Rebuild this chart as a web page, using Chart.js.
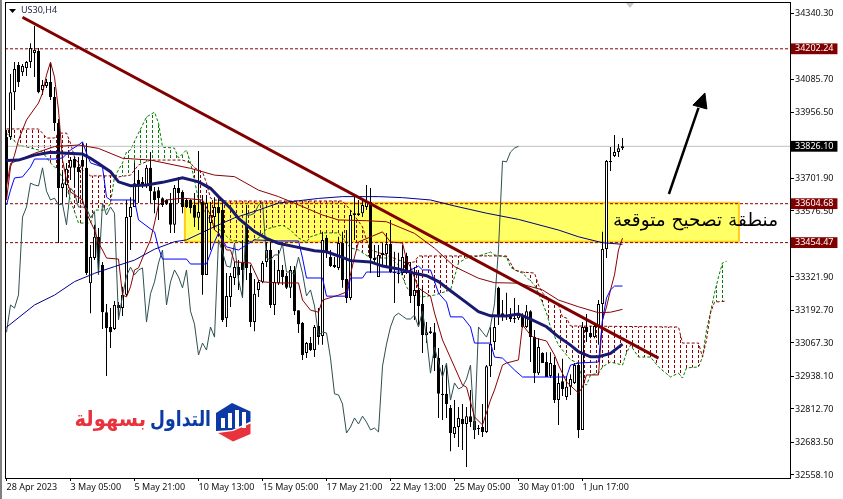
<!DOCTYPE html>
<html><head><meta charset="utf-8">
<style>html,body{margin:0;padding:0;background:#fff}#wrap{position:absolute;left:0;top:0;width:843px;height:499px}</style>
<script src="https://cdn.jsdelivr.net/npm/chart.js@4"></script></head>
<body><div id="wrap"><canvas id="c" width="843" height="499"></canvas></div>
<script>
const opens=[33862,33862,34035,34140,34112,34128,34151,34186,34194,34043,34059,34074,34016,33916,33665,33677,33743,33777,33747,33773,33743,33298,33395,33477,33368,33186,33129,33121,33214,33202,33253,33553,33592,33696,33688,33677,33743,33653,33657,33626,33619,33607,33523,33665,33650,33619,33619,33600,33550,33611,33330,33530,33553,33592,33580,33163,33245,33318,33360,33376,33523,33337,33148,33272,33303,33380,33426,33214,33298,33349,33326,33280,33349,33194,33144,33029,33067,33040,33133,33094,33473,33399,33368,33357,33453,33314,33241,33568,33561,33568,33592,33611,33395,33322,33415,33411,33449,33337,33337,33337,33403,33341,33249,33272,33218,33098,33113,33109,33009,32871,32871,32816,32716,32743,32774,32755,32785,32766,32735,32743,32724,32978,33071,33280,33175,33175,33175,33163,33163,33175,33129,33190,33090,32951,33029,32994,32940,32982,32847,32920,32859,32898,32913,32982,32732,33129,33106,33090,33133,33218,33430,33769,33789,33804,33819];
const highs=[33889,34105,34151,34151,34144,34155,34224,34290,34205,34082,34086,34147,34055,33931,33727,33762,33785,33785,33785,33842,33838,33445,33523,33511,33380,33218,33202,33229,33225,33284,33619,33630,33762,33735,33708,33754,33804,33669,33669,33630,33622,33646,33677,33708,33657,33626,33622,33646,33808,33638,33638,33611,33630,33626,33619,33337,33337,33380,33387,33465,33600,33368,33314,33310,33384,33457,33457,33387,33426,33368,33337,33364,33364,33194,33148,33071,33090,33137,33202,33496,33484,33426,33399,33477,33496,33503,33580,33638,33619,33619,33677,33665,33445,33445,33453,33492,33542,33419,33415,33445,33415,33380,33360,33349,33284,33148,33129,33144,33048,32982,32982,32828,32847,32820,32832,32820,32886,32782,32751,32832,32982,33129,33167,33284,33233,33261,33202,33241,33214,33182,33214,33194,33117,33086,33032,33032,33032,33013,32951,33006,32940,32947,32990,32990,33148,33179,33133,33137,33233,33496,33773,33823,33870,33835,33858];
const lows=[33619,33850,33966,34055,34097,34097,34128,34093,34031,34024,34051,34005,33885,33453,33604,33630,33696,33669,33607,33607,33330,33182,33387,33330,33121,32940,33048,33117,33163,33171,33249,33426,33592,33607,33665,33665,33607,33568,33542,33592,33600,33492,33492,33607,33568,33588,33568,33515,33503,33253,33330,33426,33503,33477,33148,33129,33206,33291,33272,33245,33310,33129,33113,33245,33298,33360,33202,33175,33291,33291,33276,33241,33175,33106,33002,33009,33036,33013,33060,33060,33395,33360,33357,33349,33280,33222,33233,33465,33557,33553,33580,33337,33376,33322,33360,33360,33337,33222,33298,33330,33333,33222,33156,33137,33029,33067,33102,32959,32778,32770,32778,32650,32701,32666,32654,32589,32743,32697,32712,32705,32720,32936,33040,33137,33152,33156,33148,33144,33156,33125,33125,32994,32913,32944,32990,32936,32932,32836,32751,32863,32847,32867,32909,32701,32732,33071,33086,33086,33060,33129,33395,33731,33785,33785,33812];
const closes=[33696,34035,34124,34074,34136,34151,34205,34198,34035,34063,34074,34016,33916,33665,33684,33739,33773,33743,33727,33747,33337,33399,33477,33399,33186,33125,33109,33214,33202,33253,33553,33592,33684,33677,33673,33743,33653,33619,33626,33600,33604,33523,33665,33646,33592,33592,33588,33550,33573,33330,33607,33561,33592,33568,33156,33249,33326,33360,33330,33349,33357,33148,33257,33303,33376,33426,33214,33303,33349,33322,33280,33349,33190,33140,33021,33067,33040,33129,33090,33465,33419,33364,33360,33453,33310,33241,33561,33561,33568,33600,33611,33395,33387,33407,33407,33449,33341,33341,33333,33399,33337,33249,33272,33210,33098,33109,33106,33009,32871,32867,32832,32720,32743,32778,32755,32785,32762,32732,32739,32724,32978,33063,33129,33171,33182,33171,33160,33160,33175,33129,33190,33090,32951,33052,32990,32936,32990,32847,32913,32890,32898,32928,32982,32732,33129,33109,33090,33133,33218,33430,33769,33766,33804,33819,33826];

const chikou=[33109,33214,33202,33253,33553,33592,33684,33677,33673,33743,33653,33619,33626,33600,33604,33523,33665,33646,33592,33592,33588,33550,33573,33330,33607,33561,33592,33568,33156,33249,33326,33360,33330,33349,33357,33148,33257,33303,33376,33426,33214,33303,33349,33322,33280,33349,33190,33140,33021,33067,33040,33129,33090,33465,33419,33364,33360,33453,33310,33241,33561,33561,33568,33600,33611,33395,33387,33407,33407,33449,33341,33341,33333,33399,33337,33249,33272,33210,33098,33109,33106,33009,32871,32867,32832,32720,32743,32778,32755,32785,32762,32732,32739,32724,32978,33063,33129,33171,33182,33171,33160,33160,33175,33129,33190,33090,32951,33052,32990,32936,32990,32847,32913,32890,32898,32928,32982,32732,33129,33109,33090,33133,33218,33430,33769,33766,33804,33819,33826];

const maFastX=[0,3,7,11,15,19,21,23,26,28,31,35,39,44,48,51,53,56,58,62,65,68,72,77,80,83,86,91,94,98,102,105,108,111,115,118,121,125,128,131,135,138,141,143,146,148,151,154];
const maFastY=[33771,33773,33792,33803,33799,33796,33780,33760,33728,33689,33674,33677,33687,33705,33689,33664,33632,33587,33548,33497,33471,33452,33439,33423,33419,33403,33385,33380,33364,33353,33336,33327,33304,33269,33223,33188,33172,33171,33179,33159,33130,33091,33059,33034,33014,33014,33027,33063];

const maSlowX=[0,7,12,17,22,27,32,37,42,45,52,57,63,68,73,78,84,93,99,106,112,120,128,138,143,149,154];
const maSlowY=[33128,33214,33252,33304,33336,33362,33387,33429,33458,33465,33516,33550,33580,33607,33616,33625,33632,33632,33628,33619,33596,33568,33544,33503,33477,33454,33448];

const maMidX=[0,1,3,7,12,18,23,29,36,46,52,57,63,68,73,79,83,90,95,102,107,112,118,122,128,134,138,143,148,151,154];
const maMidY=[33670,33760,33773,33799,33825,33831,33818,33780,33773,33741,33715,33709,33657,33632,33600,33561,33542,33539,33535,33490,33433,33362,33317,33300,33298,33272,33233,33207,33184,33186,33197];

const tenkanX=[0,1,2,3,5,8,9,10,11,12,13,14,15,16,19,20,22,23,24,25,28,29,30,31,32,33,34,36,37,38,40,44,49,51,52,53,55,56,57,61,63,64,68,73,74,76,78,79,83,85,87,88,94,96,99,100,101,103,106,107,109,112,114,115,117,119,121,122,124,125,128,129,131,132,135,137,138,140,143,144,145,148,149,150,151,152,153,154];
const tenkanY=[33619,33746,33792,33850,33928,33993,34031,34101,34151,34093,33966,33773,33696,33650,33619,33568,33503,33453,33426,33395,33391,33253,33245,33284,33349,33357,33395,33465,33530,33600,33619,33626,33619,33561,33503,33492,33426,33426,33380,33376,33310,33303,33299,33299,33233,33194,33186,33233,33252,33264,33399,33457,33496,33457,33453,33387,33360,33279,33248,33183,33079,32975,32905,32897,32782,32751,32847,32886,32982,32990,33002,33137,33098,33087,33075,33021,32982,32917,32874,32897,32944,32944,33156,33206,33272,33330,33426,33472];

const kijunX=[0,1,2,4,6,7,12,14,16,18,19,20,21,24,25,26,32,33,37,38,39,45,46,50,51,52,53,55,58,62,68,73,74,75,79,80,85,86,89,90,100,103,104,106,108,110,111,114,116,117,121,122,124,127,129,140,141,143,148,149,150,151,152,154];
const kijunY=[33600,33657,33704,33708,33746,33777,33777,33781,33812,33831,33843,33800,33762,33746,33630,33619,33619,33542,33496,33434,33391,33391,33372,33372,33414,33457,33492,33438,33426,33465,33461,33461,33395,33318,33318,33248,33248,33318,33318,33341,33341,33364,33349,33349,33260,33225,33168,33168,33129,33067,33067,33013,33009,32963,32936,32936,32982,32990,32994,33156,33241,33272,33287,33287];

const spanAX=[0,3,8,9,11,12,13,15,16,18,21,22,25,26,27,29,30,31,33,35,37,38,39,42,43,45,46,47,48,50,52,56,60,63,65,68,69,71,73,75,76,79,83,86,88,91,96,98,99,100,101,104,107,111,112,113,115,118,121,122,125,126,127,129,132,133,135,136,138,141,143,144,145,146,148,149,151,154,155,156,158,161,163,166,168,169,170,173,174,175,176,177,178,179,180];
const spanAY=[33877,33831,33812,33804,33762,33746,33735,33669,33619,33530,33530,33580,33580,33607,33708,33762,33804,33812,33877,33939,33958,33916,33823,33819,33781,33812,33762,33696,33619,33561,33522,33465,33453,33472,33507,33519,33522,33503,33472,33457,33477,33492,33492,33434,33426,33395,33395,33368,33322,33284,33260,33245,33252,33272,33322,33376,33395,33403,33418,33407,33399,33360,33349,33337,33291,33260,33183,33129,33059,33002,32990,32913,32905,32944,32951,32975,32994,32982,33029,33059,33013,33013,32975,32936,32951,32932,32971,32975,33013,33117,33186,33260,33322,33376,33383];

const spanBX=[0,8,9,10,12,13,15,16,17,19,21,27,28,31,33,36,44,46,47,49,50,51,52,55,84,86,89,90,91,94,100,102,103,125,126,127,129,132,133,134,136,138,139,140,141,168,169,173,174,175,176,177,180];
const spanBY=[33893,33893,33877,33858,33858,33877,33877,33838,33785,33735,33712,33712,33708,33715,33754,33773,33773,33762,33743,33727,33684,33626,33619,33615,33615,33580,33515,33465,33426,33411,33376,33380,33403,33403,33376,33349,33341,33337,33291,33260,33233,33214,33167,33164,33133,33129,33067,33067,33013,33079,33183,33225,33229];

const trendX=[4,163];
const trendY=[34324,33009];
const arrowX=[165.6,173];
const arrowY=[33642,33974];
const arrowHeadX=[174.6,171.6,175.1,174.6];
const arrowHeadY=[34032,33985,33970,34032];
const zoneX=[44.6,183.1,183.1,44.6,44.6];
const zoneY=[33608,33608,33458,33458,33608];
const levelValues=[34202.24,33604.68,33454.47];
const lastPrice=33826.10;
const priceTicks=[34340.30,34085.70,33956.50,33701.90,33576.50,33321.90,33192.70,33067.30,32938.10,32812.70,32683.50,32558.10];
const timeTickStep=16;
const timeLabels=['28 Apr 2023','3 May 05:00','5 May 21:00','10 May 13:00','15 May 05:00','17 May 21:00','22 May 13:00','25 May 05:00','30 May 01:00','1 Jun 17:00'];
const symbolLabel='US30,H4';
const zoneLabel='منطقة تصحيح متوقعة';
const logoBlue='التداول';
const logoRed='بسهولة';

const UI_FONT='"Noto Sans"';
const AR_FONT='"DejaVu Sans"';
const pts=(xs,ys)=>xs.map((x,i)=>({x,y:ys[i]}));
function hatch(color){
  const p=document.createElement('canvas');p.width=6;p.height=5;
  const g=p.getContext('2d');g.fillStyle=color;g.fillRect(2,0,1,3);
  return g.createPattern(p,'repeat');
}
const line=(label,data,color,width,order,extra)=>Object.assign({type:'line',label,data,borderColor:color,borderWidth:width,pointRadius:0,tension:0,fill:false,order},extra||{});
const xMin=-0.375,xMax=195.875;
const idx=opens.map((_,i)=>i);
const datasets=[
  line('zone',pts(zoneX,zoneY),'#ffcc11',2,100,{fill:'shape',backgroundColor:'#ffff66'}),
  line('spanA',pts(spanAX,spanAY),'#008000',1,90,{borderDash:[3,2]}),
  line('spanB',pts(spanBX,spanBY),'#8b0000',1,89,{borderDash:[3,2],fill:{target:1,above:hatch('#8b0000'),below:hatch('#008000')}}),
  line('level0',[{x:xMin,y:levelValues[0]},{x:xMax,y:levelValues[0]}],'#8b0000',1,80,{borderDash:[3,2]}),
  line('level1',[{x:xMin,y:levelValues[1]},{x:xMax,y:levelValues[1]}],'#8b0000',1,80,{borderDash:[3,2]}),
  line('level2',[{x:xMin,y:levelValues[2]},{x:xMax,y:levelValues[2]}],'#8b0000',1,80,{borderDash:[3,2]}),
  line('last',[{x:xMin,y:lastPrice},{x:xMax,y:lastPrice}],'#c0c0c0',1,81),
  {type:'bar',label:'wick',data:idx.map(i=>({x:i,y:[lows[i],highs[i]]})),backgroundColor:'#000',barThickness:1,maxBarThickness:1,grouped:false,inflateAmount:0,order:61},
  {type:'bar',label:'body',data:idx.map(i=>({x:i,y:[opens[i],closes[i]]})),backgroundColor:idx.map(i=>closes[i]>=opens[i]?'#fff':'#000'),borderColor:'#000',borderWidth:1,borderSkipped:false,barThickness:3,maxBarThickness:3,grouped:false,inflateAmount:0,minBarLength:1,order:60},
  line('chikou',chikou.map((y,i)=>({x:i,y})),'#2f4f4f',1,50),
  line('tenkan',pts(tenkanX,tenkanY),'#8b0000',1,49),
  line('kijun',pts(kijunX,kijunY),'#0000ff',1,48),
  line('maMid',pts(maMidX,maMidY),'#8b0000',1,47),
  line('maSlow',pts(maSlowX,maSlowY),'#00008b',1,46),
  line('maFast',pts(maFastX,maFastY),'#191970',3,20),
  line('trend',pts(trendX,trendY),'#800000',3,10),
  line('arrow',pts(arrowX,arrowY),'#000',2.5,5),
  line('arrowHead',pts(arrowHeadX,arrowHeadY),'#000',1,4,{fill:'shape',backgroundColor:'#000'})
];
function squeezed(c,text,rightX,y,sx){
  c.save();c.translate(rightX,y);c.scale(sx,1);c.fillText(text,0,0);c.restore();
}
const frame={id:'frame',afterDraw(ch){
  const c=ch.ctx;
  c.save();
  c.fillStyle='#808080';c.fillRect(0,0,2,499);
  c.strokeStyle='#000';c.lineWidth=1;
  c.strokeRect(5.5,2.5,785,476);
  c.fillStyle='#c8c8c8';c.beginPath();c.moveTo(626,3);c.lineTo(634,3);c.lineTo(630,8);c.closePath();c.fill();
  c.fillStyle='#000';c.beginPath();c.moveTo(9,9);c.lineTo(16,9);c.lineTo(12.5,13);c.closePath();c.fill();
  c.font='9px '+UI_FONT;c.fillStyle='#1a2340';c.textAlign='left';c.textBaseline='middle';c.fillText(symbolLabel,21,10.5);
  c.fillStyle='#000';c.font='18.5px '+AR_FONT;c.textAlign='center';c.direction='rtl';c.fillText(zoneLabel,695.5,221);
  c.font='bold 21px '+AR_FONT;c.textAlign='right';
  c.fillStyle='#0b3aa5';squeezed(c,logoBlue,211,421,0.82);
  c.fillStyle='#e8323c';squeezed(c,logoRed,146,421,0.93);
  c.direction='ltr';
  c.fillStyle='#e8323c';c.beginPath();c.moveTo(218,433);c.lineTo(233,441.5);c.lineTo(250.5,434);c.lineTo(250.5,423.5);c.lineTo(233,431);c.closePath();c.fill();
  c.fillStyle='#0b3aa5';c.beginPath();c.moveTo(232,403);c.lineTo(250.5,411.5);c.lineTo(250.5,421.5);c.lineTo(232,430);c.lineTo(216,431);c.lineTo(216,413);c.closePath();c.fill();
  c.fillStyle='#fff';[[221,418],[228,413],[235,410],[242,412]].forEach(b=>c.fillRect(b[0],b[1],4,428-b[1]));
  c.restore();
}};
const tagTicks=levelValues.concat([lastPrice]);
const tagOf=v=>tagTicks.indexOf(v);
new Chart(document.getElementById('c'),{
  type:'bar',
  data:{datasets},
  plugins:[frame],
  options:{
    responsive:false,animation:false,devicePixelRatio:1,
    layout:{padding:{left:5,top:2,right:0,bottom:0}},
    plugins:{legend:{display:false},tooltip:{enabled:false}},
    scales:{
      x:{type:'linear',min:xMin,max:xMax,offset:false,
        grid:{offset:false,display:true,drawOnChartArea:false,drawTicks:true,tickLength:3,color:'#000'},
        border:{display:false},
        afterBuildTicks(s){s.ticks=timeLabels.map((_,i)=>({value:i*timeTickStep}));},
        afterFit(s){s.height=21;s.paddingLeft=0;s.paddingRight=0;},
        ticks:{autoSkip:false,maxRotation:0,minRotation:0,align:'start',padding:1,color:'#111',font:{family:UI_FONT,size:9},
          callback:v=>timeLabels[v/timeTickStep]}
      },
      y:{type:'linear',position:'right',min:32546.4,max:34382.8,
        grid:{display:true,drawOnChartArea:false,drawTicks:true,tickLength:4,color:'#000'},
        border:{display:false},
        afterBuildTicks(s){s.ticks=priceTicks.concat([lastPrice],levelValues).map(value=>({value}));},
        afterFit(s){s.width=53;s.paddingTop=0;s.paddingBottom=0;},
        ticks:{autoSkip:false,padding:1,font:{family:UI_FONT,size:9},
          color:c=>tagOf(c.tick.value)>=0?'#fff':'#111',
          showLabelBackdrop:c=>tagOf(c.tick.value)>=0,
          backdropColor:c=>c.tick.value===lastPrice?'#000':'#800000',
          backdropPadding:{left:4,right:4,top:0,bottom:0},
          callback:v=>v.toFixed(2)}
      }
    }
  }
});
</script></body></html>
